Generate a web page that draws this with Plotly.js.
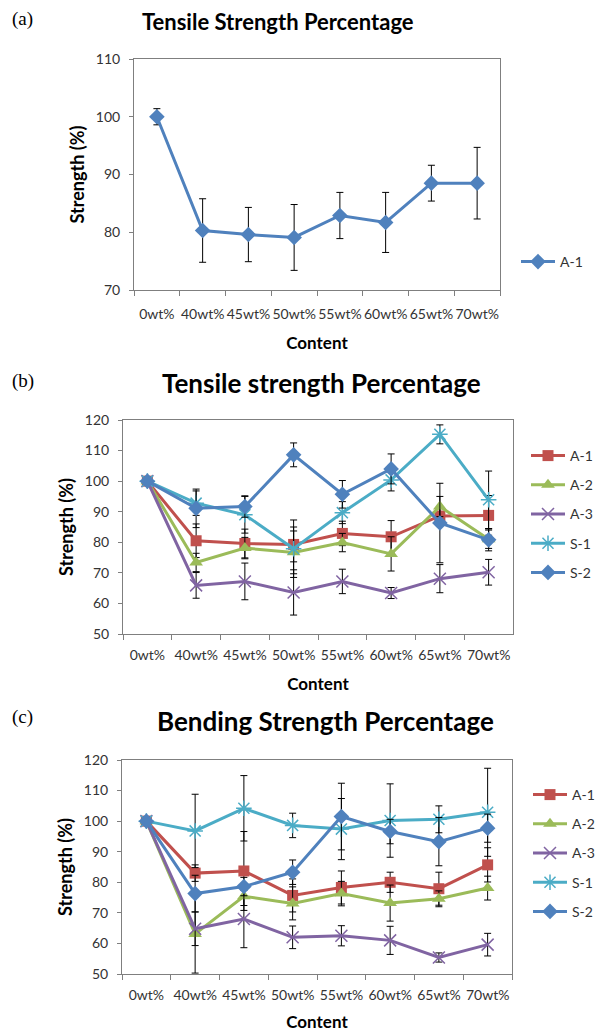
<!DOCTYPE html>
<html>
<head>
<meta charset="utf-8">
<script src="https://cdn.plot.ly/plotly-3.0.1.min.js"></script>
<style>html,body{margin:0;padding:0;background:#fff;}#chart{width:602px;height:1033px;}</style>
</head>
<body>
<div id="chart"></div>
<script>
// ---------- data ----------
const categories = ['0wt%','40wt%','45wt%','50wt%','55wt%','60wt%','65wt%','70wt%'];
const seriesNames = ['A-1','A-2','A-3','S-1','S-2'];

// (a) Tensile strength percentage, A-1 only
const tensileA_A1 = [100, 80.3, 79.6, 79.1, 82.9, 81.7, 88.5, 88.5];
const tensileA_A1_err = [1.4, 5.5, 4.7, 5.7, 4.0, 5.2, 3.1, 6.2];

// (b) Tensile strength percentage
const tensileA1 = [100, 80.5, 79.6, 79.3, 82.9, 81.8, 88.6, 88.8];
const tensileA2 = [100, 73.4, 78.1, 76.7, 79.9, 76.2, 91.7, 81.0];
const tensileA3 = [100, 65.9, 67.2, 63.6, 67.2, 63.4, 68.1, 70.2];
const tensileS1 = [100, 92.8, 89.0, 77.9, 89.7, 100.4, 115.3, 93.9];
const tensileS2 = [100, 91.1, 91.7, 108.6, 95.7, 104.0, 86.3, 80.8];
const tensileA1_err = [1.4, 5.5, 4.7, 5.7, 4.0, 5.3, 3.1, 6.5];
const tensileA2_err = [0, 3.0, 3.5, 7.0, 3.0, 5.6, 3.3, 3.0];
const tensileA3_err = [0, 4.2, 6.0, 7.4, 4.0, 1.8, 4.6, 4.2];
const tensileS1_err = [0, 4.0, 6.0, 9.4, 3.6, 3.6, 3.1, 9.4];
const tensileS2_err = [0, 6.3, 3.5, 3.9, 4.5, 4.9, 13.0, 3.6];

// (c) Bending strength percentage
const bendingA1 = [100, 83.0, 83.7, 75.7, 78.3, 80.0, 77.9, 85.7];
const bendingA2 = [100, 63.1, 75.4, 73.1, 76.3, 73.2, 74.6, 78.1];
const bendingA3 = [100, 64.8, 68.0, 62.0, 62.5, 61.0, 55.4, 59.6];
const bendingS1 = [100, 96.8, 104.2, 98.6, 97.4, 100.2, 100.6, 102.9];
const bendingS2 = [100, 76.3, 78.6, 83.3, 101.5, 96.6, 93.3, 97.7];
const bendingA1_err = [0, 2.7, 12.9, 5.4, 5.4, 3.3, 5.4, 5.6];
const bendingA2_err = [0, 12.8, 3.0, 5.4, 4.0, 5.9, 2.6, 3.9];
const bendingA3_err = [0, 5.5, 9.4, 3.7, 3.3, 4.6, 1.5, 3.7];
const bendingS1_err = [0, 12.0, 10.7, 4.0, 10.0, 12.0, 4.4, 14.4];
const bendingS2_err = [0, 6.0, 3.0, 4.0, 10.9, 4.0, 7.9, 4.6];

const panelTitles = ['Tensile Strength Percentage','Tensile strength Percentage','Bending Strength Percentage'];
const panelLabels = ['(a)','(b)','(c)'];

// ---------- styles ----------
const FONT = 'Lato, "Open Sans", sans-serif';
const styles = {
  'A-1': {color:'#C0504D', symbol:'square', size:11},
  'A-2': {color:'#9BBB59', symbol:'triangle-up', size:12},
  'A-3': {color:'#8064A2', symbol:'x-thin-open', size:12},
  'S-1': {color:'#4BACC6', symbol:'asterisk-open', size:13},
  'S-2': {color:'#4F81BD', symbol:'diamond', size:12}
};

function mk(name, y, err, ax, legendId, st, group) {
  const s = st || styles[name];
  const sym = s.symbol;
  const isLineSym = sym.indexOf('thin') >= 0 || sym.indexOf('asterisk') >= 0;
  return {
    type:'scatter', mode:'lines+markers', name:name,
    x:categories, y:y,
    xaxis:'x'+ax, yaxis:'y'+ax,
    legend:legendId, legendgroup:group,
    line:{color:s.color, width:3},
    marker:{symbol:sym, size:s.size, color:s.color,
            line:{color:s.color, width:isLineSym?1.5:0}},
    error_y:{type:'data', array:err, visible:true, color:'#000', thickness:1, width:3.5}
  };
}

const traces = [];
traces.push(mk('A-1', tensileA_A1, tensileA_A1_err, '', 'legend', {color:'#4F81BD', symbol:'diamond', size:12}, 'a1'));
const tb = [tensileA1,tensileA2,tensileA3,tensileS1,tensileS2];
const tbe = [tensileA1_err,tensileA2_err,tensileA3_err,tensileS1_err,tensileS2_err];
const bb = [bendingA1,bendingA2,bendingA3,bendingS1,bendingS2];
const bbe = [bendingA1_err,bendingA2_err,bendingA3_err,bendingS1_err,bendingS2_err];
seriesNames.forEach((n,i)=>traces.push(mk(n, tb[i], tbe[i], '2', 'legend2', null, 'b'+i)));
seriesNames.forEach((n,i)=>traces.push(mk(n, bb[i], bbe[i], '3', 'legend3', null, 'c'+i)));

const W = 602, H = 1033;
function dx(a,b){return [a/W, b/W];}
function dy(top,bot){return [1-bot/H, 1-top/H];}

function xax(dom, anchor, labelStandoff, titleStandoff) {
  return {
    domain:dom, anchor:anchor, type:'category', range:[-0.5,7.5],
    showline:true, linecolor:'#7f7f7f', linewidth:1, mirror:true,
    ticks:'outside', tickson:'boundaries', ticklen:5, tickcolor:'#7f7f7f',
    tickangle:0, ticklabelstandoff:labelStandoff,
    showgrid:false, zeroline:false, fixedrange:true,
    tickfont:{family:FONT, size:14, color:'#333'},
    title:{text:'<b>Content</b>', font:{family:FONT, size:17, color:'#000'}, standoff:titleStandoff}
  };
}
function yax(dom, anchor, range) {
  return {
    domain:dom, anchor:anchor, range:range, dtick:10,
    showline:true, linecolor:'#7f7f7f', linewidth:1, mirror:true,
    ticks:'outside', ticklen:4, tickcolor:'#7f7f7f', ticklabelstandoff:6,
    showgrid:false, zeroline:false, fixedrange:true,
    tickfont:{family:FONT, size:14, color:'#333'},
    title:{text:'<b>Strength (%)</b>', font:{family:FONT, size:18, color:'#000'}, standoff:6}
  };
}
function leg(xpx, ycenterpx) {
  return {x:xpx/W, y:1-ycenterpx/H, xanchor:'left', yanchor:'middle',
          font:{family:FONT, size:14, color:'#333'}, bgcolor:'rgba(0,0,0,0)',
          tracegroupgap:8, itemwidth:34};
}

const layout = {
  width:W, height:H, autosize:false,
  margin:{l:0,r:0,t:0,b:0},
  paper_bgcolor:'#fff', plot_bgcolor:'#fff',
  showlegend:true,
  xaxis: xax(dx(134,500),'y',11,16),
  yaxis: yax(dy(59,290),'x',[70,110]),
  xaxis2: xax(dx(123,513),'y2',8,16),
  yaxis2: yax(dy(420,634),'x2',[50,120]),
  xaxis3: xax(dx(122,512),'y3',8,14),
  yaxis3: yax(dy(760,974),'x3',[50,120]),
  legend: leg(516, 262),
  legend2: leg(526, 514),
  legend3: leg(528, 853),
  annotations:[
    {text:'<b>'+panelTitles[0]+'</b>', xref:'paper', yref:'paper', x:278/W, y:1-22/H, showarrow:false, xanchor:'center', yanchor:'middle', font:{family:FONT, size:22, color:'#000'}},
    {text:'<b>'+panelTitles[1]+'</b>', xref:'paper', yref:'paper', x:321/W, y:1-383/H, showarrow:false, xanchor:'center', yanchor:'middle', font:{family:FONT, size:26, color:'#000'}},
    {text:'<b>'+panelTitles[2]+'</b>', xref:'paper', yref:'paper', x:325/W, y:1-721/H, showarrow:false, xanchor:'center', yanchor:'middle', font:{family:FONT, size:26, color:'#000'}},
    {text:panelLabels[0], xref:'paper', yref:'paper', x:10/W, y:1-19/H, showarrow:false, xanchor:'left', yanchor:'middle', font:{family:'"Liberation Serif", serif', size:19, color:'#000'}},
    {text:panelLabels[1], xref:'paper', yref:'paper', x:10/W, y:1-381/H, showarrow:false, xanchor:'left', yanchor:'middle', font:{family:'"Liberation Serif", serif', size:19, color:'#000'}},
    {text:panelLabels[2], xref:'paper', yref:'paper', x:10/W, y:1-717/H, showarrow:false, xanchor:'left', yanchor:'middle', font:{family:'"Liberation Serif", serif', size:19, color:'#000'}}
  ]
};

Plotly.newPlot('chart', traces, layout, {displayModeBar:false, staticPlot:true});
</script>
</body>
</html>
